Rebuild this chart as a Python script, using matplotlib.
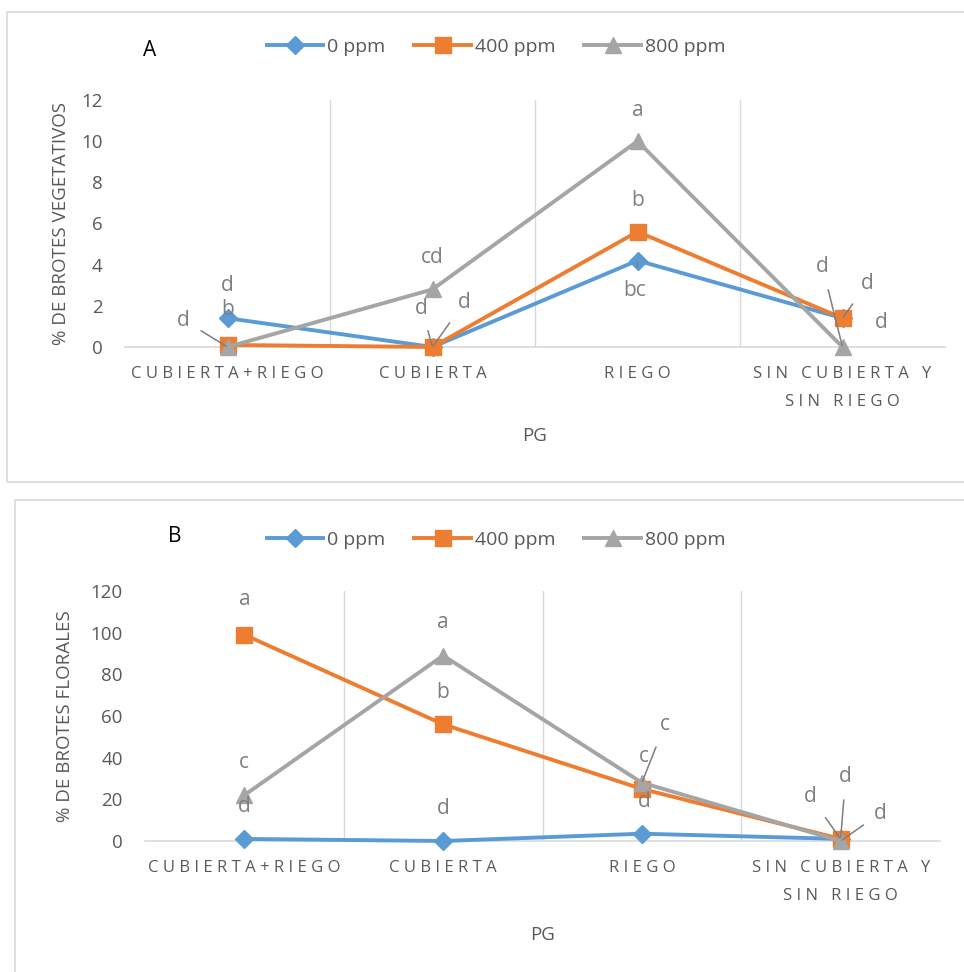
import matplotlib
matplotlib.use("Agg")
import matplotlib.pyplot as plt
from matplotlib.patches import Rectangle
from matplotlib.lines import Line2D

plt.rcParams['font.family'] = ['Open Sans', 'DejaVu Sans']

categories = ["CUBIERTA+RIEGO", "CUBIERTA", "RIEGO", "SIN CUBIERTA Y\nSIN RIEGO"]
series_names = ["0 ppm", "400 ppm", "800 ppm"]

veg_0 = [1.4, 0.0, 4.2, 1.4]
veg_400 = [0.1, 0.0, 5.6, 1.4]
veg_800 = [0.0, 2.8, 10.0, 0.0]

flo_0 = [1.0, 0.0, 3.5, 1.0]
flo_400 = [99.0, 56.0, 25.0, 1.0]
flo_800 = [22.0, 89.0, 28.0, 0.0]

# significance letters: (series index, category index, letter)
veg_letters = [(0, 0, "d"), (1, 0, "b"), (2, 0, "d"),
               (2, 1, "cd"), (1, 1, "d"), (0, 1, "d"),
               (2, 2, "a"), (1, 2, "b"), (0, 2, "bc"),
               (2, 3, "d"), (1, 3, "d"), (0, 3, "d")]
flo_letters = [(1, 0, "a"), (2, 0, "c"), (0, 0, "d"),
               (2, 1, "a"), (1, 1, "b"), (0, 1, "d"),
               (2, 2, "c"), (1, 2, "c"), (0, 2, "d"),
               (0, 3, "d"), (1, 3, "d"), (2, 3, "d")]

# label offsets in pixels (dx, dy, leader)
veg_offsets = [(0, 33, False), (0, 35, False), (-44, 27, True),
               (0, 32, False), (-11, 39, True), (32, 45, True),
               (0, 31, False), (0, 31, False), (-3, -30, True),
               (-20, 80, True), (25, 35, True), (39, -4, False)]
flo_offsets = [(0, 35, False), (0, 33, False), (0, 32, False),
               (0, 33, False), (0, 32, False), (0, 33, False),
               (23, 58, True), (2, 32, False), (2, 32, False),
               (-30, 42, True), (5, 62, True), (40, 28, True)]

colors = ["#5B9BD5", "#ED7D31", "#A5A5A5"]
markers = ["D", "s", "^"]
msizes = [9, 11, 11]
text_gray = "#595959"
lbl_gray = "#7F7F7F"
grid_gray = "#D9D9D9"


def spaced(s):
    lines = []
    for line in s.split("\n"):
        words = [" ".join(list(w)) for w in line.split(" ")]
        lines.append("   ".join(words))
    return "\n".join(lines)


fig = plt.figure(figsize=(9.64, 9.72), dpi=100)

# panel frames
fig.patches.append(Rectangle((7 / 964, 1 - 482 / 972), 1.2, 470 / 972, transform=fig.transFigure,
                             fill=False, edgecolor=grid_gray, lw=1.2))
fig.patches.append(Rectangle((15 / 964, -0.05), 1.2, 1 - 500 / 972 + 0.05, transform=fig.transFigure,
                             fill=False, edgecolor=grid_gray, lw=1.2))

ax1 = fig.add_axes([125 / 964, 1 - 347 / 972, 820 / 964, 247 / 972])
ax2 = fig.add_axes([145 / 964, 1 - 841 / 972, 795 / 964, 250 / 972])


def style(ax, data, letters, offsets, ylim, yticks, ylabel, ylpad, xlpad):
    x = list(range(len(categories)))
    for i, vals in enumerate(data):
        ax.plot(x, vals, color=colors[i], lw=2.8, marker=markers[i], ms=msizes[i],
                mfc=colors[i], mec=colors[i], zorder=3 + i, clip_on=False,
                label=series_names[i])
    ax.set_xlim(-0.5, len(categories) - 0.5)
    ax.set_ylim(*ylim)
    ax.set_yticks(yticks)
    ax.set_xticks(x)
    ax.set_xticklabels([spaced(c) for c in categories], fontsize=12, color=text_gray,
                       linespacing=1.95)
    ax.tick_params(axis='both', length=0, colors=text_gray)
    ax.tick_params(axis='x', pad=14, labelsize=12)
    ax.tick_params(axis='y', pad=16, labelsize=13.5)
    for b in range(1, len(categories)):
        ax.axvline(b - 0.5, color=grid_gray, lw=1.0, zorder=1)
    for s in ['top', 'right', 'left']:
        ax.spines[s].set_visible(False)
    ax.spines['bottom'].set_color(grid_gray)
    ax.spines['bottom'].set_linewidth(1.2)
    ax.set_ylabel(ylabel, fontsize=13.5, color=text_gray, labelpad=ylpad)
    ax.set_xlabel("PG", fontsize=13.5, color=text_gray, labelpad=xlpad)
    for (si, ci, lab), (dx, dy, lead) in zip(letters, offsets):
        yv = data[si][ci]
        kw = dict(textcoords='offset pixels', xytext=(dx, dy), ha='center', va='center',
                  fontsize=15, color=lbl_gray, zorder=10, annotation_clip=False)
        if lead:
            kw['arrowprops'] = dict(arrowstyle='-', color=lbl_gray, lw=1.1, shrinkA=7, shrinkB=1)
        ax.annotate(lab, xy=(ci, yv), **kw)


style(ax1, [veg_0, veg_400, veg_800], veg_letters, veg_offsets, (0, 12), range(0, 13, 2),
      "% DE BROTES VEGETATIVOS", 8, 12)
style(ax2, [flo_0, flo_400, flo_800], flo_letters, flo_offsets, (0, 120), range(0, 121, 20),
      "% DE BROTES FLORALES", 12, 16)

handles = [Line2D([], [], color=colors[i], lw=2.8, marker=markers[i], ms=msizes[i])
           for i in range(3)]
for yc in (1 - 47 / 972, 1 - 540 / 972):
    fig.legend(handles, series_names, loc='center', bbox_to_anchor=(496 / 964, yc),
               ncol=3, frameon=False, fontsize=14, handlelength=2.9, handletextpad=0.2,
               columnspacing=1.5, labelcolor=text_gray)

fig.text(150 / 964, 1 - 50 / 972, "A", fontsize=15, ha='center', va='center', color='black')
fig.text(175 / 964, 1 - 537 / 972, "B", fontsize=15, ha='center', va='center', color='black')

fig.savefig("out.png", dpi=100)
